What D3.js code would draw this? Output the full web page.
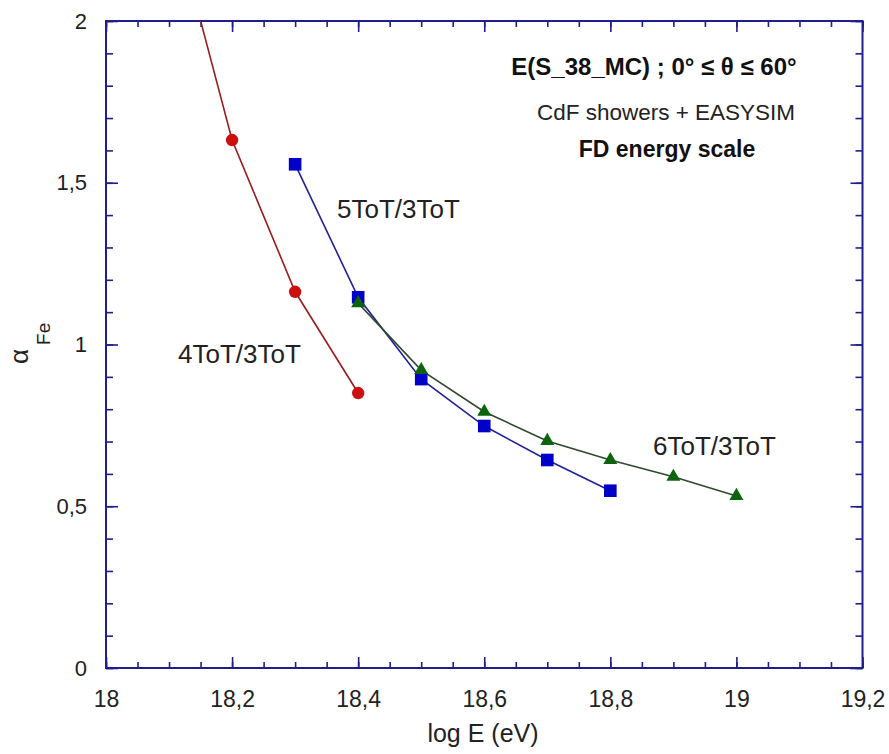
<!DOCTYPE html>
<html>
<head>
<meta charset="utf-8">
<script src="https://cdn.jsdelivr.net/npm/d3@7"></script>
<style>
  html, body { margin: 0; padding: 0; background: #ffffff; }
  svg { display: block; font-family: "Liberation Sans", Arial, Helvetica, sans-serif; }
</style>
</head>
<body>
<svg id="chart" width="889" height="754"></svg>
<script>
// ---------- data ----------
const xTicks = [18, 18.2, 18.4, 18.6, 18.8, 19, 19.2];
const xTickLabels = ["18", "18,2", "18,4", "18,6", "18,8", "19", "19,2"];
const yTicks = [0, 0.5, 1, 1.5, 2];
const yTickLabels = ["0", "0,5", "1", "1,5", "2"];

const logE4 = [18.1, 18.2, 18.3, 18.4];
const alpha4 = [2.37, 1.632, 1.163, 0.850];

const logE5 = [18.3, 18.4, 18.5, 18.6, 18.7, 18.8];
const alpha5 = [1.557, 1.146, 0.893, 0.748, 0.643, 0.548];

const logE6 = [18.4, 18.5, 18.6, 18.7, 18.8, 18.9, 19.0];
const alpha6 = [1.128, 0.921, 0.792, 0.702, 0.643, 0.591, 0.532];

// ---------- layout ----------
const svg = d3.select("#chart");
const L = 106, R = 862.5, T = 21, B = 668;
const x = d3.scaleLinear().domain([18, 19.2]).range([L, R]);
const y = d3.scaleLinear().domain([0, 2]).range([B, T]);

const axisColor = "#1e1e8c";
const font = "'Liberation Sans', Arial, Helvetica, sans-serif";

svg.append("rect").attr("x", 0).attr("y", 0).attr("width", 889).attr("height", 754).attr("fill", "#fff");

const xMinor = d3.range(18, 19.2001, 0.05);
const yMinor = d3.range(0, 2.0001, 0.1);

function styleAxis(g) {
  g.select(".domain").remove();
  g.selectAll("line").attr("stroke", axisColor).attr("stroke-width", 1.6);
  g.selectAll("text").attr("fill", "#222").attr("font-family", font);
}

// minor ticks (inward, all four sides)
svg.append("g").attr("transform", `translate(0,${B})`)
  .call(d3.axisBottom(x).tickValues(xMinor).tickSize(-6).tickFormat(""))
  .call(styleAxis);
svg.append("g").attr("transform", `translate(0,${T})`)
  .call(d3.axisTop(x).tickValues(xMinor).tickSize(-6).tickFormat(""))
  .call(styleAxis);
svg.append("g").attr("transform", `translate(${L},0)`)
  .call(d3.axisLeft(y).tickValues(yMinor).tickSize(-7).tickFormat(""))
  .call(styleAxis);
svg.append("g").attr("transform", `translate(${R},0)`)
  .call(d3.axisRight(y).tickValues(yMinor).tickSize(-7).tickFormat(""))
  .call(styleAxis);

// major ticks
svg.append("g").attr("transform", `translate(0,${B})`)
  .call(d3.axisBottom(x).tickValues(xTicks).tickSize(-11).tickPadding(23)
    .tickFormat((d, i) => xTickLabels[i]))
  .call(styleAxis)
  .call(g => g.selectAll("text").attr("font-size", 23));
svg.append("g").attr("transform", `translate(0,${T})`)
  .call(d3.axisTop(x).tickValues(xTicks).tickSize(-11).tickFormat(""))
  .call(styleAxis);
svg.append("g").attr("transform", `translate(${L},0)`)
  .call(d3.axisLeft(y).tickValues(yTicks).tickSize(-12).tickPadding(19)
    .tickFormat((d, i) => yTickLabels[i]))
  .call(styleAxis)
  .call(g => g.selectAll("text").attr("font-size", 22));
svg.append("g").attr("transform", `translate(${R},0)`)
  .call(d3.axisRight(y).tickValues(yTicks).tickSize(-12).tickFormat(""))
  .call(styleAxis);

// frame
svg.append("rect").attr("x", L).attr("y", T).attr("width", R - L).attr("height", B - T)
  .attr("fill", "none").attr("stroke", axisColor).attr("stroke-width", 2);

// clip
svg.append("clipPath").attr("id", "plotclip")
  .append("rect").attr("x", L).attr("y", T).attr("width", R - L).attr("height", B - T);
const plot = svg.append("g").attr("clip-path", "url(#plotclip)");

const line = d3.line().x(d => x(d[0])).y(d => y(d[1]));
const pts4 = logE4.map((v, i) => [v, alpha4[i]]);
const pts5 = logE5.map((v, i) => [v, alpha5[i]]);
const pts6 = logE6.map((v, i) => [v, alpha6[i]]);

plot.append("path").datum(pts4).attr("d", line).attr("fill", "none")
  .attr("stroke", "#9a1c1c").attr("stroke-width", 1.6);
plot.append("path").datum(pts5).attr("d", line).attr("fill", "none")
  .attr("stroke", "#20209a").attr("stroke-width", 1.6);
plot.append("path").datum(pts6).attr("d", line).attr("fill", "none")
  .attr("stroke", "#2e4a2e").attr("stroke-width", 1.6);

plot.selectAll("circle.s4").data(pts4).enter().append("circle")
  .attr("cx", d => x(d[0])).attr("cy", d => y(d[1])).attr("r", 6.2)
  .attr("fill", "#cc1010");
plot.selectAll("rect.s5").data(pts5).enter().append("rect")
  .attr("x", d => x(d[0]) - 6.3).attr("y", d => y(d[1]) - 6.3)
  .attr("width", 12.6).attr("height", 12.6).attr("fill", "#0000c8");
const tri = d3.symbol().type(d3.symbolTriangle).size(85);
plot.selectAll("path.s6").data(pts6).enter().append("path")
  .attr("d", tri).attr("transform", d => `translate(${x(d[0])},${y(d[1])})`)
  .attr("fill", "#0c640c");

// series labels
const lab = (tx, ty, t) => svg.append("text").attr("x", tx).attr("y", ty)
  .attr("font-family", font).attr("font-size", 26).attr("fill", "#222").text(t);
lab(337, 218, "5ToT/3ToT");
lab(178, 363, "4ToT/3ToT");
lab(653, 455, "6ToT/3ToT");

// annotation block
svg.append("text").attr("x", 654).attr("y", 75).attr("text-anchor", "middle")
  .attr("font-family", font).attr("font-size", 24).attr("font-weight", "bold").attr("fill", "#111")
  .text("E(S_38_MC) ; 0° ≤ θ ≤ 60°");
svg.append("text").attr("x", 666).attr("y", 120).attr("text-anchor", "middle")
  .attr("font-family", font).attr("font-size", 22.5).attr("fill", "#222")
  .text("CdF showers + EASYSIM");
svg.append("text").attr("x", 667).attr("y", 157).attr("text-anchor", "middle")
  .attr("font-family", font).attr("font-size", 23).attr("font-weight", "bold").attr("fill", "#111")
  .text("FD energy scale");

// axis titles
svg.append("text").attr("x", 483).attr("y", 742).attr("text-anchor", "middle")
  .attr("font-family", font).attr("font-size", 25).attr("fill", "#222")
  .text("log E (eV)");

const yt = svg.append("text").attr("transform", "translate(28,364) rotate(-90)")
  .attr("font-family", font).attr("fill", "#222");
yt.append("tspan").attr("font-size", 26).text("α");
yt.append("tspan").attr("font-size", 19).attr("dx", 4).attr("dy", 22).text("Fe");
</script>
</body>
</html>
